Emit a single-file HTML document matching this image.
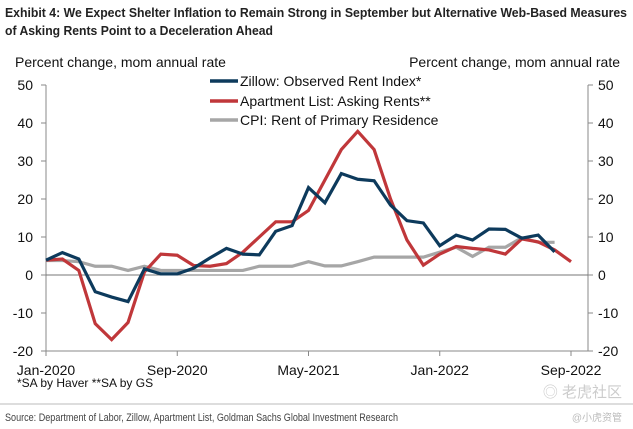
<!DOCTYPE html>
<html><head><meta charset="utf-8"><style>
body{margin:0;background:#fff;}
svg{display:block;font-family:"Liberation Sans",Arial,sans-serif;}
</style></head><body>
<svg id="chart" width="633" height="429" viewBox="0 0 633 429">
<text x="5" y="17" font-size="13" font-weight="bold" fill="#222" textLength="622" lengthAdjust="spacingAndGlyphs">Exhibit 4: We Expect Shelter Inflation to Remain Strong in September but Alternative Web-Based Measures</text>
<text x="5" y="35" font-size="13" font-weight="bold" fill="#222" textLength="268" lengthAdjust="spacingAndGlyphs">of Asking Rents Point to a Deceleration Ahead</text>
<text x="15" y="67" font-size="14" fill="#111">Percent change,  mom annual rate</text>
<text x="620" y="67" font-size="14" fill="#111" text-anchor="end">Percent change, mom annual rate</text>
<g id="axes"></g>
<g id="series"></g>
<g>
<line x1="210" y1="81" x2="238" y2="81" stroke="#0d3a5c" stroke-width="3.5"/>
<text x="240" y="86" font-size="14" fill="#111">Zillow: Observed Rent Index*</text>
<line x1="210" y1="101" x2="238" y2="101" stroke="#c0373a" stroke-width="3.5"/>
<text x="240" y="106" font-size="14" fill="#111">Apartment List: Asking Rents**</text>
<line x1="210" y1="120" x2="238" y2="120" stroke="#a6a6a6" stroke-width="3.5"/>
<text x="240" y="125" font-size="14" fill="#111">CPI: Rent of Primary Residence</text>
</g>
<text x="17" y="387" font-size="12" fill="#111">*SA by Haver **SA by GS</text>
<line x1="0" y1="404" x2="633" y2="404" stroke="#bbb" stroke-width="1"/>
<text x="5" y="421" font-size="11" fill="#444" textLength="393" lengthAdjust="spacingAndGlyphs">Source: Department of Labor, Zillow, Apartment List, Goldman Sachs Global Investment Research</text>
<text x="622" y="397" font-size="15" fill="#ccc" text-anchor="end" font-family="'Liberation Sans','Noto Sans CJK SC',sans-serif">◎ 老虎社区</text>
<text x="622" y="421" font-size="10" fill="#bbb" text-anchor="end" font-family="'Liberation Sans','Noto Sans CJK SC',sans-serif">@小虎资管</text>
</svg>
<script>
const months = 33; // Jan-2020 .. Sep-2022
const xTickLabels = ["Jan-2020","Sep-2020","May-2021","Jan-2022","Sep-2022"];
const xTickIndex = [0, 8, 16, 24, 32];
const yTicks = [50, 40, 30, 20, 10, 0, -10, -20];
const zillow = [3.9,5.9,4.2,-4.4,-5.8,-7,1.6,0.3,0.3,1.8,4.5,7,5.5,5.3,11.5,13,23,19,26.7,25.2,24.8,18.4,14.3,13.7,7.7,10.5,9.2,12.1,12,9.7,10.5,6.1];
const aptList = [3.9,4.2,1.2,-12.8,-17,-12.5,0.8,5.5,5.2,2.5,2.3,3,6,10,14,14,17,25,33,37.8,33,20,9.2,2.6,5.5,7.5,7,6.6,5.5,9.5,8.7,6.6,3.5];
const cpi = [3.8,3.8,3.5,2.3,2.3,1.2,2.3,1.2,1.2,1.2,1.2,1.2,1.2,2.3,2.3,2.3,3.5,2.4,2.4,3.5,4.7,4.7,4.7,4.7,6,7.3,4.9,7.3,7.3,9.8,8.6,8.6];

const X0=46, XSTEP=(571-46)/32, PL=46, PR=588;
const x = i => X0 + i*XSTEP;
const y = v => 275 - v*3.8;
const NS="http://www.w3.org/2000/svg";
const axes=document.getElementById('axes'), ser=document.getElementById('series');
function mk(tag, attrs, parent){const e=document.createElementNS(NS,tag);for(const k in attrs)e.setAttribute(k,attrs[k]);parent.appendChild(e);return e;}

let l=mk('line',{x1:PL,y1:y(50),x2:PL,y2:y(-20),stroke:'#888'},axes);


l=mk('line',{x1:PR,y1:y(50),x2:PR,y2:y(-20),stroke:'#888'},axes);


l=mk('line',{x1:PL,y1:y(-20),x2:PR,y2:y(-20),stroke:'#888'},axes);


l=mk('line',{x1:PL,y1:y(0),x2:PR,y2:y(0),stroke:'#777'},axes);


yTicks.forEach(v=>{
  mk('line',{x1:PL-5,y1:y(v),x2:PL,y2:y(v),stroke:'#888'},axes);
  mk('line',{x1:PR,y1:y(v),x2:PR+5,y2:y(v),stroke:'#888'},axes);
  let t=mk('text',{x:33,y:y(v)+5,'font-size':14,'text-anchor':'end',fill:'#111'},axes);
  t.textContent=v;
  
  
  t=mk('text',{x:598,y:y(v)+5,'font-size':14,fill:'#111'},axes);
  t.textContent=v;
  
  
});
xTickIndex.forEach((idx,k)=>{
  mk('line',{x1:x(idx),y1:y(-20),x2:x(idx),y2:y(-20)+5,stroke:'#888'},axes);
  const t=mk('text',{x:x(idx),y:375,'font-size':14,'text-anchor':'middle',fill:'#111'},axes);
  t.textContent=xTickLabels[k];
  
  
});
function line(data,color,name){
  const p=mk('polyline',{points:data.map((v,i)=>x(i)+','+y(v)).join(' '),fill:'none',stroke:color,'stroke-width':3.2,'stroke-linejoin':'miter'},ser);
  
  
}
line(cpi,'#a6a6a6','cpi-rent-line');
line(aptList,'#c0373a','apartment-list-line');
line(zillow,'#0d3a5c','zillow-line');
</script>
</body></html>
